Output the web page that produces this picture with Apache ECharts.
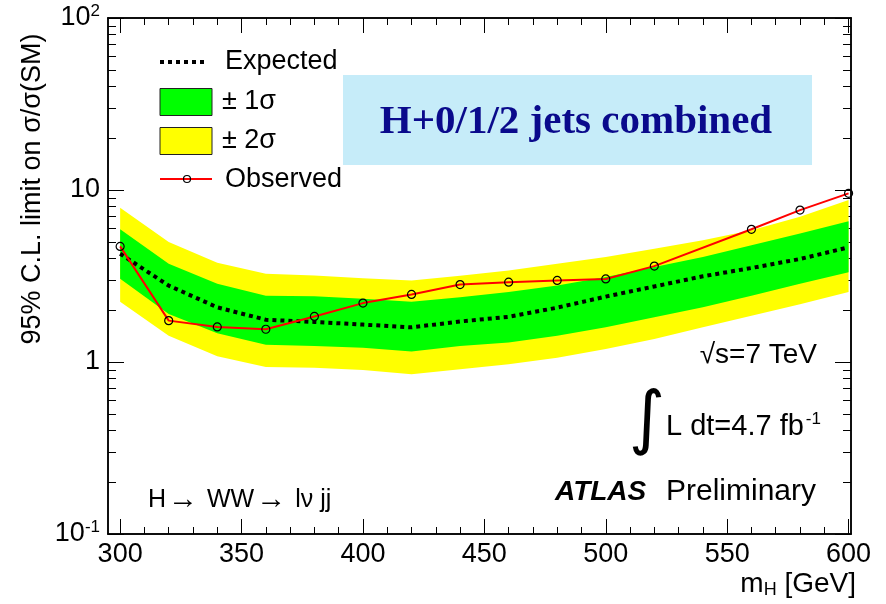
<!DOCTYPE html>
<html>
<head>
<meta charset="utf-8">
<script src="https://cdn.jsdelivr.net/npm/echarts@6/dist/echarts.min.js"></script>
<style>
html,body{margin:0;padding:0;background:#fff;}
#chart{width:886px;height:604px;}
</style>
</head>
<body>
<div id="chart"></div>
<script>
// ---- data ----
const massPoints = [300,320,340,360,380,400,420,440,460,480,500,520,540,560,580,600];
const expected   = [4.26,2.78,2.08,1.76,1.71,1.65,1.59,1.72,1.83,2.07,2.40,2.75,3.15,3.52,3.97,4.64];
const plus2      = [7.89,4.99,3.78,3.26,3.18,3.07,2.98,3.17,3.40,3.73,4.08,4.56,5.10,5.83,6.99,8.74];
const plus1      = [5.91,3.73,2.85,2.43,2.41,2.33,2.24,2.38,2.55,2.78,3.12,3.57,4.08,4.77,5.58,6.59];
const minus1     = [3.05,1.90,1.47,1.26,1.24,1.21,1.15,1.24,1.30,1.42,1.59,1.82,2.08,2.43,2.85,3.33];
const minus2     = [2.24,1.42,1.08,0.935,0.927,0.898,0.848,0.906,0.97,1.06,1.19,1.36,1.59,1.86,2.17,2.55];
const obsMass    = [300,320,340,360,380,400,420,440,460,480,500,520,560,580,600];
const observed   = [4.70,1.74,1.60,1.55,1.84,2.20,2.47,2.82,2.91,2.98,3.04,3.61,5.91,7.64,9.56];

const xMajorTicks = [300,350,400,450,500,550,600];
const xMinorTicks = [];
for (let v = 300; v <= 600; v += 10) xMinorTicks.push(v);
const yMajorTicks = [0.1,1,10,100];
const yMinorTicks = [];
[0.1,1,10].forEach(d => { for (let k = 2; k <= 9; k++) yMinorTicks.push(+(d*k).toPrecision(3)); });
const yTickLabels = {0.1:'{b|10}{sup|-1}', 1:'{b|1}', 10:'{b|10}', 100:'{b|10}{sup|2}'};

const X_MIN = 295, X_MAX = 601, Y_MIN = 0.1, Y_MAX = 100;
const FONT = '"Liberation Sans", Arial, Helvetica, sans-serif';

function bandSeries(upper, lower, color) {
  return {
    type: 'custom',
    xAxisIndex: 0, yAxisIndex: 0,
    silent: true,
    z: 1,
    data: massPoints.map((m, i) => [m, upper[i]]),
    renderItem: function (params, api) {
      if (params.dataIndex !== 0) return null;
      const pts = [];
      for (let i = 0; i < massPoints.length; i++) pts.push(api.coord([massPoints[i], upper[i]]));
      for (let i = massPoints.length - 1; i >= 0; i--) pts.push(api.coord([massPoints[i], lower[i]]));
      return { type: 'polygon', shape: { points: pts }, style: { fill: color, stroke: null } };
    }
  };
}

function xAxisDef(pos, ticks, len, withLabel) {
  return {
    type: 'value', position: pos, min: X_MIN, max: X_MAX,
    axisLine: { show: true, lineStyle: { color: '#000', width: 1.5 } },
    axisTick: { show: true, inside: true, length: len, customValues: ticks, lineStyle: { color: '#000', width: 1 } },
    axisLabel: withLabel ? { show: true, customValues: xMajorTicks, fontSize: 27, fontFamily: FONT, color: '#000', margin: 7 } : { show: false },
    splitLine: { show: false }
  };
}
function yAxisDef(pos, ticks, len, withLabel) {
  return {
    type: 'log', logBase: 10, position: pos, min: Y_MIN, max: Y_MAX,
    axisLine: { show: true, lineStyle: { color: '#000', width: 1.5 } },
    axisTick: { show: true, inside: true, length: len, customValues: ticks, lineStyle: { color: '#000', width: 1 } },
    axisLabel: withLabel ? {
      show: true, customValues: yMajorTicks, margin: 8, color: '#000',
      formatter: function (v) { const key = +(+v).toPrecision(3); return yTickLabels[key] || String(v); },
      rich: {
        b: { fontSize: 27, fontFamily: FONT, color: '#000', lineHeight: 30 },
        sup: { fontSize: 17, fontFamily: FONT, color: '#000', lineHeight: 17, verticalAlign: 'top' }
      }
    } : { show: false },
    splitLine: { show: false }
  };
}

const chart = echarts.init(document.getElementById('chart'), null, { renderer: 'canvas' });
const option = {
  animation: false,
  backgroundColor: '#fff',
  grid: { left: 108, top: 18, width: 743, height: 516, containLabel: false },
  xAxis: [
    xAxisDef('bottom', xMajorTicks, 15, true),
    xAxisDef('bottom', xMinorTicks, 7, false),
    xAxisDef('top', xMajorTicks, 15, false),
    xAxisDef('top', xMinorTicks, 7, false)
  ],
  yAxis: [
    yAxisDef('left', yMajorTicks, 16, true),
    yAxisDef('left', yMinorTicks, 8, false),
    yAxisDef('right', yMajorTicks, 16, false),
    yAxisDef('right', yMinorTicks, 8, false)
  ],
  series: [
    bandSeries(plus2, minus2, '#ffff00'),
    bandSeries(plus1, minus1, '#00ff00'),
    {
      name: 'Expected', type: 'line', xAxisIndex: 0, yAxisIndex: 0, z: 3,
      data: massPoints.map((m, i) => [m, expected[i]]),
      showSymbol: false, symbol: 'none', silent: true,
      lineStyle: { color: '#000', width: 4, type: [4, 4], cap: 'butt' }
    },
    {
      name: 'Observed', type: 'line', xAxisIndex: 0, yAxisIndex: 0, z: 4,
      data: obsMass.map((m, i) => [m, observed[i]]),
      symbol: 'circle', symbolSize: 8, showSymbol: true, silent: true,
      lineStyle: { color: '#ff0000', width: 2 },
      itemStyle: { color: 'rgba(0,0,0,0)', borderColor: '#000', borderWidth: 1.2 }
    }
  ],
  graphic: [
    // axis titles
    { type: 'text', x: 33, y: 189, rotation: Math.PI / 2, z: 10,
      style: { text: '95% C.L. limit on σ/σ(SM)', font: '27px ' + FONT, fill: '#000', textAlign: 'center', textVerticalAlign: 'middle' } },
    { type: 'text', x: 856, y: 584, z: 10,
      style: { text: '{m|m}{s|H}{m| [GeV]}', textAlign: 'right', textVerticalAlign: 'middle',
        rich: { m: { fontSize: 28, fontFamily: FONT, fill: '#000', lineHeight: 30 }, s: { fontSize: 18, fontFamily: FONT, fill: '#000', lineHeight: 20, verticalAlign: 'bottom' } } } },
    // legend
    { type: 'line', z: 10, shape: { x1: 160, y1: 62, x2: 208, y2: 62 }, style: { stroke: '#000', lineWidth: 4, lineDash: [4, 4] } },
    { type: 'text', x: 225, y: 62, z: 10, style: { text: 'Expected', font: '27px ' + FONT, fill: '#000', textVerticalAlign: 'middle' } },
    { type: 'rect', z: 10, shape: { x: 160, y: 88.5, width: 52, height: 27 }, style: { fill: '#00ff00', stroke: '#222', lineWidth: 1 } },
    { type: 'text', x: 222, y: 102, z: 10, style: { text: '± 1σ', font: '27px ' + FONT, fill: '#000', textVerticalAlign: 'middle' } },
    { type: 'rect', z: 10, shape: { x: 160, y: 127.5, width: 52, height: 27 }, style: { fill: '#ffff00', stroke: '#222', lineWidth: 1 } },
    { type: 'text', x: 222, y: 141, z: 10, style: { text: '± 2σ', font: '27px ' + FONT, fill: '#000', textVerticalAlign: 'middle' } },
    { type: 'line', z: 10, shape: { x1: 160, y1: 179, x2: 212, y2: 179 }, style: { stroke: '#ff0000', lineWidth: 2 } },
    { type: 'circle', z: 11, shape: { cx: 187, cy: 179, r: 3.5 }, style: { fill: 'rgba(0,0,0,0)', stroke: '#000', lineWidth: 1.2 } },
    { type: 'text', x: 225, y: 180, z: 10, style: { text: 'Observed', font: '27px ' + FONT, fill: '#000', textVerticalAlign: 'middle' } },
    // title box
    { type: 'rect', z: 9, shape: { x: 343, y: 75, width: 469, height: 90 }, style: { fill: '#c6ecf9' } },
    { type: 'text', x: 576, y: 122, z: 10, style: { text: 'H+0/1/2 jets combined', font: 'bold 41px "Liberation Serif", "Times New Roman", serif', fill: '#0a0a8c', textAlign: 'center', textVerticalAlign: 'middle' } },
    // annotations
    { type: 'text', x: 817, y: 355, z: 10, style: { text: '√s=7 TeV', font: '28px ' + FONT, fill: '#000', textAlign: 'right', textVerticalAlign: 'middle' } },
    { type: 'text', x: 647, y: 423, z: 10, style: { text: '∫', font: '70px "DejaVu Sans", sans-serif', fill: '#000', textAlign: 'center', textVerticalAlign: 'middle' } },
    { type: 'text', x: 666, y: 427, z: 10,
      style: { text: '{m|L dt=4.7 fb}{s|-1}', textVerticalAlign: 'middle',
        rich: { m: { fontSize: 29, fontFamily: FONT, fill: '#000', lineHeight: 32 }, s: { fontSize: 17, fontFamily: FONT, fill: '#000', lineHeight: 17, verticalAlign: 'top', padding: [0, 0, 0, 2] } } } },
    { type: 'text', x: 555, y: 492, z: 10, style: { text: 'ATLAS', font: 'italic bold 28px ' + FONT, fill: '#000', textVerticalAlign: 'middle' } },
    { type: 'text', x: 666, y: 492, z: 10, style: { text: 'Preliminary', font: '30px ' + FONT, fill: '#000', textVerticalAlign: 'middle' } },
    { type: 'text', x: 148, y: 500, z: 10,
      style: { text: '{t|H}{a|→}{t| WW}{a|→}{t| lν jj}', textVerticalAlign: 'middle',
        rich: { t: { fontSize: 25, fontFamily: FONT, fill: '#000', lineHeight: 30 }, a: { fontSize: 30, fontFamily: '"Liberation Serif", serif', fill: '#000', lineHeight: 30, padding: [0, 2, 0, 2] } } } }
  ]
};
chart.setOption(option);
</script>
</body>
</html>
